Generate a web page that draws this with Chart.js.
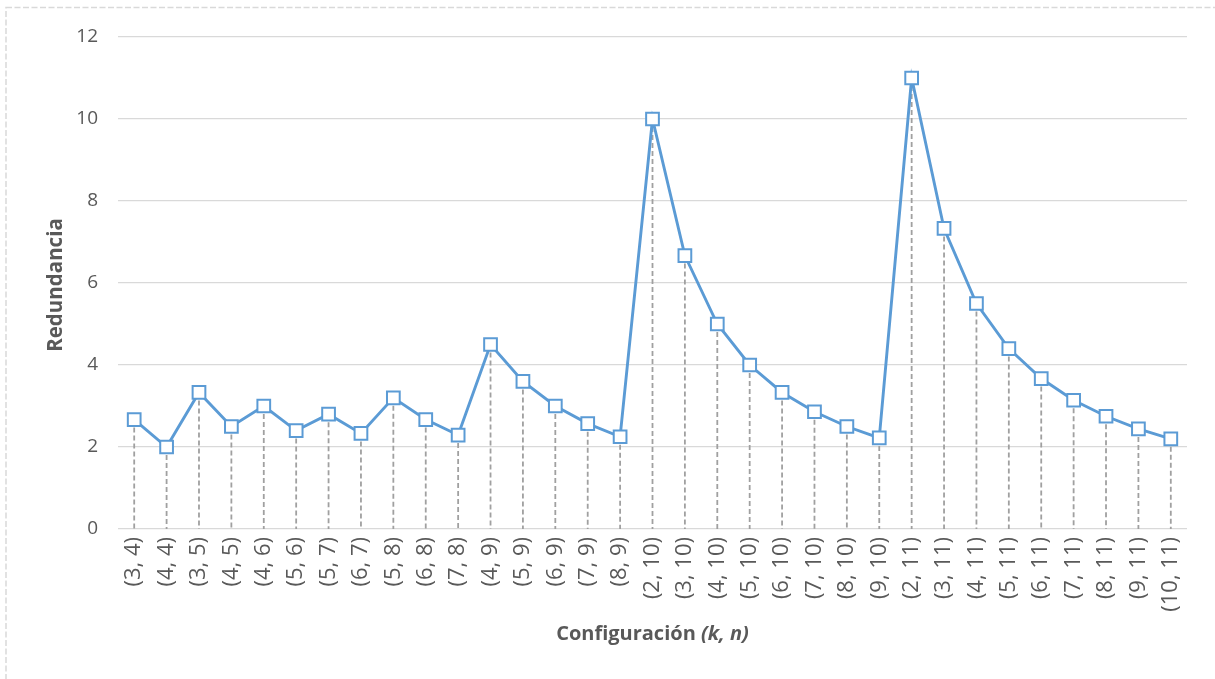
<!DOCTYPE html>
<html>
<head>
<meta charset="utf-8">
<script src="https://cdn.jsdelivr.net/npm/chart.js@4.4.1/dist/chart.umd.min.js"></script>
<style>
  html, body { margin: 0; padding: 0; background: #ffffff; }
  #wrap { position: relative; width: 1215px; height: 679px; overflow: hidden; }
  svg { position: absolute; left: 0; top: 0; }
  canvas { position: absolute; left: 0; top: 0; }
</style>
</head>
<body>
<div id="wrap">
  <svg width="1215" height="679"><rect x="6" y="7.5" width="1300" height="800" fill="none" stroke="#d9d9d9" stroke-width="1.5" stroke-dasharray="6 2.5"/></svg>
  <canvas id="c" width="1215" height="679"></canvas>
</div>
<script>
const categories = ["(3, 4)","(4, 4)","(3, 5)","(4, 5)","(4, 6)","(5, 6)","(5, 7)","(6, 7)","(5, 8)","(6, 8)","(7, 8)","(4, 9)","(5, 9)","(6, 9)","(7, 9)","(8, 9)","(2, 10)","(3, 10)","(4, 10)","(5, 10)","(6, 10)","(7, 10)","(8, 10)","(9, 10)","(2, 11)","(3, 11)","(4, 11)","(5, 11)","(6, 11)","(7, 11)","(8, 11)","(9, 11)","(10, 11)"];
const redundancia = [2.67,2.00,3.33,2.50,3.00,2.40,2.80,2.33,3.20,2.67,2.29,4.50,3.60,3.00,2.57,2.25,10.00,6.67,5.00,4.00,3.33,2.86,2.50,2.22,11.00,7.33,5.50,4.40,3.67,3.14,2.75,2.44,2.20];
const yTicks = [0,2,4,6,8,10,12];
const yTitle = "Redundancia";
const xTitleMain = "Configuración ";
const xTitleItalic = "(k, n)";

const FONT = "'Open Sans', sans-serif";
const GRAY = "#595959";

const dropLines = {
  id: 'dropLines',
  beforeDatasetsDraw(chart) {
    const ctx = chart.ctx;
    const meta = chart.getDatasetMeta(0);
    const yScale = chart.scales.y;
    const base = yScale.getPixelForValue(0);
    ctx.save();
    ctx.strokeStyle = '#a0a0a0';
    ctx.lineWidth = 1.8;
    ctx.setLineDash([5, 3]);
    meta.data.forEach(pt => {
      ctx.beginPath();
      ctx.moveTo(pt.x, pt.y);
      ctx.lineTo(pt.x, base);
      ctx.stroke();
    });
    ctx.restore();
  }
};

const titlesPlugin = {
  id: 'titlesPlugin',
  afterDraw(chart) {
    const ctx = chart.ctx;
    const area = chart.chartArea;
    const cx = (area.left + area.right) / 2;
    const y = 634;
    ctx.save();
    ctx.fillStyle = GRAY;
    ctx.textBaseline = 'middle';
    const f1 = "bold 20px " + FONT;
    const f2 = "italic bold 20px " + FONT;
    ctx.font = f1;
    const w1 = ctx.measureText(xTitleMain).width;
    ctx.font = f2;
    const w2 = ctx.measureText(xTitleItalic).width;
    const start = cx - (w1 + w2) / 2;
    ctx.font = f1;
    ctx.textAlign = 'left';
    ctx.fillText(xTitleMain, start, y);
    ctx.font = f2;
    ctx.fillText(xTitleItalic, start + w1, y);
    ctx.translate(56, (area.top + area.bottom) / 2 + 2);
    ctx.rotate(-Math.PI / 2);
    ctx.font = "bold 20.5px " + FONT;
    ctx.textAlign = 'center';
    ctx.fillText(yTitle, 0, 0);
    ctx.restore();
  }
};

new Chart(document.getElementById('c'), {
  type: 'line',
  data: {
    labels: categories,
    datasets: [{
      data: redundancia,
      borderColor: '#5B9BD5',
      borderWidth: 2.9,
      pointStyle: 'rect',
      pointRadius: 9,
      pointHoverRadius: 9,
      pointBorderWidth: 2,
      pointBorderColor: '#5B9BD5',
      pointBackgroundColor: '#ffffff',
      tension: 0,
      fill: false
    }]
  },
  options: {
    responsive: false,
    animation: false,
    devicePixelRatio: 1,
    layout: { padding: { left: 0, right: 28, top: 37, bottom: 0 } },
    plugins: { legend: { display: false }, tooltip: { enabled: false }, title: { display: false } },
    scales: {
      x: {
        offset: true,
        grid: { display: false, drawTicks: false },
        border: { display: false },
        ticks: {
          color: GRAY,
          font: { family: FONT, size: 22 },
          minRotation: 90, maxRotation: 90,
          autoSkip: false,
          padding: 8
        },
        afterFit(scale) { scale.height = 150; }
      },
      y: {
        min: 0, max: 12,
        afterBuildTicks(scale) { scale.ticks = yTicks.map(v => ({ value: v })); },
        grid: { color: '#d9d9d9', lineWidth: 1.3, drawTicks: false },
        border: { display: false },
        ticks: {
          color: GRAY,
          font: { family: FONT, size: 19 },
          padding: 20
        },
        afterFit(scale) { scale.width = 118; }
      }
    }
  },
  plugins: [dropLines, titlesPlugin]
});
</script>
</body>
</html>
